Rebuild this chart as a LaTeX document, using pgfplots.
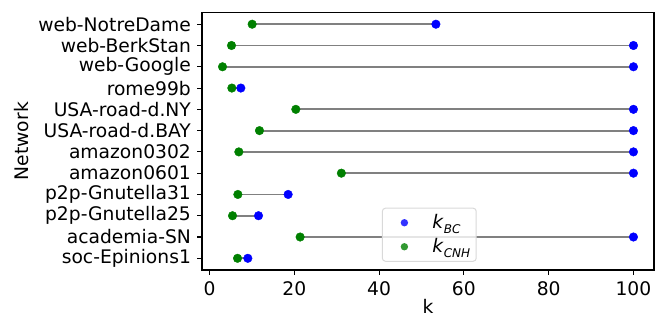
\documentclass[border=0pt]{standalone}
\usepackage{pgfplots}
\pgfplotsset{compat=1.18}
\usepackage{pgfplotstable}
\usepackage{fontspec}
\setmainfont{DejaVu Sans}
\definecolor{mgreen}{rgb}{0,0.5,0}
\newcommand{\kk}[1]{\textit{k}\raisebox{-0.28em}{\fontsize{12}{12}\selectfont\textit{#1}}}
\pgfplotstableread{
y g b
0 6.6 9.03
1 21.37 100
2 5.42 11.55
3 6.68 18.54
4 31.1 100
5 6.91 100
6 11.78 100
7 20.35 100
8 5.26 7.38
9 3.06 100
10 5.18 100
11 10.05 53.4
}\data
\begin{document}
\fontsize{18.7}{22}\selectfont
\begin{tikzpicture}
\useasboundingbox (0,0) rectangle (668pt,320pt);
\begin{axis}[
  at={(202pt,50pt)}, anchor=south west,
  scale only axis, width=452pt, height=257.7pt,
  xmin=-1.78, xmax=104.85, ymin=-0.55, ymax=11.56,
  xtick={0,20,40,60,80,100},
  ytick={0,...,11},
  yticklabels={soc-Epinions1,academia-SN,p2p-Gnutella25,p2p-Gnutella31,amazon0601,amazon0302,USA-road-d.BAY,USA-road-d.NY,rome99b,web-Google,web-BerkStan,web-NotreDame},
  tick align=outside, major tick length=4.7pt,
  tick style={black, line width=1.07pt},
  axis line style={line width=1.07pt},
  xtick pos=bottom, ytick pos=left,
  /pgf/number format/assume math mode=true,
  ticklabel style={font=\fontsize{18.7}{22}\selectfont},
  xlabel={k}, ylabel={Network},
  label style={font=\fontsize{18.7}{22}\selectfont},
  xlabel style={yshift=9pt},
  ylabel style={yshift=-3pt},
  legend style={at={(0.398,0.032)}, anchor=south west, draw=black!15, line width=1pt, rounded corners=3pt, fill=white, fill opacity=0.8, text opacity=1, font=\fontsize{18.7}{22}\selectfont, row sep=3pt, inner sep=4pt},
  legend cell align=left,
  legend image code/.code={\path[draw=none, fill=none] (0pt,-4pt) rectangle (44pt,4pt); \fill[#1, draw=none] (18pt,0pt) circle (3.7pt);},
]
\addplot[gray, line width=1.9pt, forget plot] coordinates {(6.6,0) (9.03,0)};
\addplot[gray, line width=1.9pt, forget plot] coordinates {(21.37,1) (100,1)};
\addplot[gray, line width=1.9pt, forget plot] coordinates {(5.42,2) (11.55,2)};
\addplot[gray, line width=1.9pt, forget plot] coordinates {(6.68,3) (18.54,3)};
\addplot[gray, line width=1.9pt, forget plot] coordinates {(31.1,4) (100,4)};
\addplot[gray, line width=1.9pt, forget plot] coordinates {(6.91,5) (100,5)};
\addplot[gray, line width=1.9pt, forget plot] coordinates {(11.78,6) (100,6)};
\addplot[gray, line width=1.9pt, forget plot] coordinates {(20.35,7) (100,7)};
\addplot[gray, line width=1.9pt, forget plot] coordinates {(5.26,8) (7.38,8)};
\addplot[gray, line width=1.9pt, forget plot] coordinates {(3.06,9) (100,9)};
\addplot[gray, line width=1.9pt, forget plot] coordinates {(5.18,10) (100,10)};
\addplot[gray, line width=1.9pt, forget plot] coordinates {(10.05,11) (53.4,11)};
\addplot[only marks, mark=*, mark size=4.3pt, blue, mark options={draw=none, fill=blue}] table[x=b, y=y] {\data};
\addlegendentry{\kk{BC}}
\addplot[only marks, mark=*, mark size=4.3pt, mgreen, mark options={draw=none, fill=mgreen}] table[x=g, y=y] {\data};
\addlegendentry{\kk{CNH}}
\end{axis}
\end{tikzpicture}
\end{document}
